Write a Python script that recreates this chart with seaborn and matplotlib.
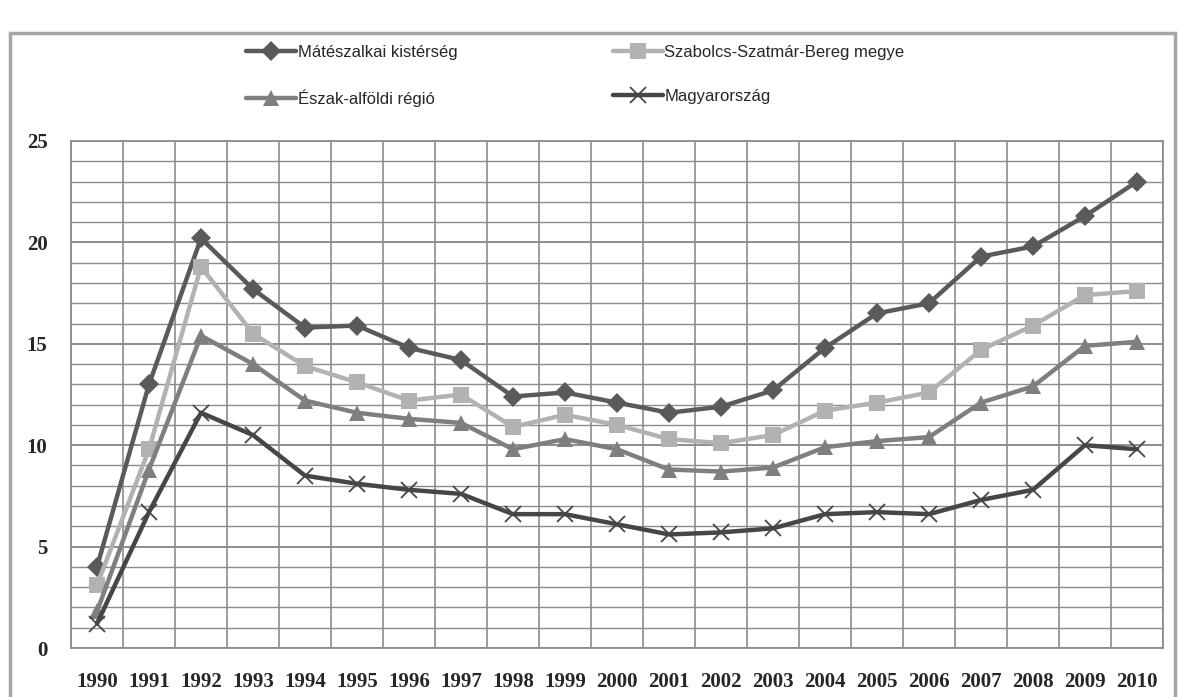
import pandas as pd
import matplotlib.pyplot as plt
import seaborn as sns
from matplotlib.patches import Rectangle
from matplotlib.ticker import MultipleLocator, FixedLocator

years = list(range(1990, 2011))

mateszalka = [4.0, 13.0, 20.2, 17.7, 15.8, 15.9, 14.8, 14.2, 12.4, 12.6, 12.1,
              11.6, 11.9, 12.7, 14.8, 16.5, 17.0, 19.3, 19.8, 21.3, 23.0]
szabolcs = [3.1, 9.8, 18.8, 15.5, 13.9, 13.1, 12.2, 12.5, 10.9, 11.5, 11.0,
            10.3, 10.1, 10.5, 11.7, 12.1, 12.6, 14.7, 15.9, 17.4, 17.6]
eszak_alfold = [1.8, 8.8, 15.4, 14.0, 12.2, 11.6, 11.3, 11.1, 9.8, 10.3, 9.8,
                8.8, 8.7, 8.9, 9.9, 10.2, 10.4, 12.1, 12.9, 14.9, 15.1]
magyarorszag = [1.2, 6.7, 11.6, 10.5, 8.5, 8.1, 7.8, 7.6, 6.6, 6.6, 6.1,
                5.6, 5.7, 5.9, 6.6, 6.7, 6.6, 7.3, 7.8, 10.0, 9.8]

names = ["Mátészalkai kistérség", "Szabolcs-Szatmár-Bereg megye",
         "Észak-alföldi régió", "Magyarország"]
series = [mateszalka, szabolcs, eszak_alfold, magyarorszag]

rows = []
for name, vals in zip(names, series):
    for i, (yr, v) in enumerate(zip(years, vals)):
        rows.append({"pos": i, "year": yr, "value": v, "series": name})
df = pd.DataFrame(rows)

colors = {names[0]: "#5a5a5a", names[1]: "#b2b2b2",
          names[2]: "#7f7f7f", names[3]: "#464646"}
markers = {names[0]: "D", names[1]: "s", names[2]: "^", names[3]: "x"}
msizes = {names[0]: 10, names[1]: 12, names[2]: 11, names[3]: 12}

sns.set_style("white")
plt.rcParams['font.family'] = ['Liberation Serif', 'DejaVu Serif']

fig = plt.figure(figsize=(11.79, 6.97), dpi=100)
ax = fig.add_axes([71 / 1179, 1 - 648 / 697, (1163 - 71) / 1179, (648 - 141) / 697])

grid_c = "#8c8c8c"
for k in range(26):
    ax.axhline(k, color=grid_c, lw=1.0 if k % 5 else 1.4, zorder=0)
for k in range(22):
    ax.axvline(k - 0.5, color=grid_c, lw=1.2, zorder=0)

for name in names:
    sub = df[df["series"] == name]
    sns.lineplot(data=sub, x="pos", y="value", ax=ax, color=colors[name],
                 lw=3.2, marker=markers[name], markersize=msizes[name],
                 markeredgewidth=1.3 if name == names[3] else 0,
                 markeredgecolor=colors[name], label=name, legend=False,
                 zorder=3)

ax.set_xlim(-0.5, 20.5)
ax.set_ylim(0, 25)
ax.yaxis.set_major_locator(MultipleLocator(5))
ax.set_xticks(range(21))
ax.set_xticklabels([str(y) for y in years], fontsize=15, fontweight="bold")
ax.xaxis.set_minor_locator(FixedLocator([k - 0.5 for k in range(22)]))
ax.tick_params(axis="x", which="major", length=0, pad=17)
ax.tick_params(axis="x", which="minor", length=7, color=grid_c, direction="out")
ax.tick_params(axis="y", which="major", length=8, color=grid_c, direction="out",
               labelsize=15, pad=9)
for lbl in ax.get_yticklabels():
    lbl.set_fontweight("bold")
ax.set_xlabel("")
ax.set_ylabel("")
for s in ax.spines.values():
    s.set_color(grid_c)
    s.set_linewidth(1.3)

handles, labels = ax.get_legend_handles_labels()
order = [0, 2, 1, 3]
leg = fig.legend([handles[i] for i in order], [labels[i] for i in order],
                 ncol=2, loc="center", bbox_to_anchor=(0.488, 1 - 76 / 697),
                 frameon=False, handlelength=3.0, handletextpad=0.1,
                 columnspacing=9.3, labelspacing=1.75,
                 prop={"family": ["Liberation Sans", "DejaVu Sans"], "size": 12})

fig.patches.append(Rectangle((10 / 1179, -0.01), (1175 - 10) / 1179, 1 - 33 / 697 + 0.01,
                             transform=fig.transFigure, fill=False,
                             edgecolor="#a6a6a6", lw=2.5))

fig.savefig("out.png", dpi=100)
